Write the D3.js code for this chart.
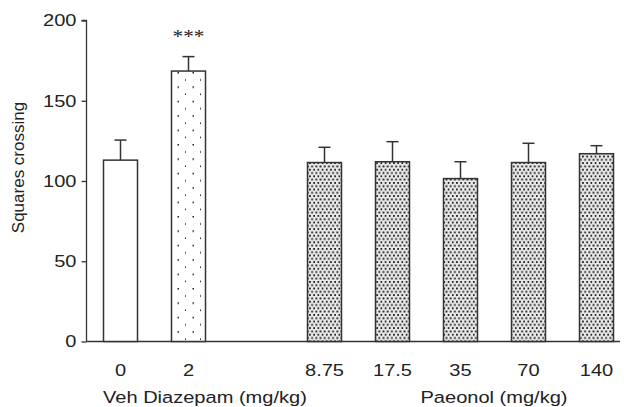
<!DOCTYPE html>
<html>
<head>
<meta charset="UTF-8">
<title>Squares crossing</title>
<style>
    body { margin: 0; padding: 0; background: #fff; }
    svg { display: block; }
    text { font-family: "Liberation Sans", Arial, sans-serif; fill: #222; }
</style>
</head>
<body>
<script src="https://cdn.jsdelivr.net/npm/d3@7"></script>
<script>
    // groups along the x axis, "gap" is the empty slot between the two drugs
    const groups = ["0", "2", "gap", "8.75", "17.5", "35", "70", "140"];
    const means = [113, 168.5, null, 111.5, 112, 101.5, 111.5, 117];
    const sems = [12.5, 9, null, 9.5, 12.5, 10.5, 12, 5];
    const fills = ["white", "sparse", null, "dense", "dense", "dense", "dense", "dense"];
    const yTicks = [0, 50, 100, 150, 200];

    const width = 626, height = 407;
    const plotLeft = 86.5, plotBottom = 341.5, plotTop = 20.5;
    const stretch = 1.18; // the figure's lettering is a bit wide

    const svg = d3.select("body").append("svg")
        .attr("width", width)
        .attr("height", height);

    const defs = svg.append("defs");

    const sparse = defs.append("pattern")
        .attr("id", "sparse")
        .attr("patternUnits", "userSpaceOnUse")
        .attr("width", 15).attr("height", 14.4)
        .attr("x", 171).attr("y", 0);
    sparse.append("rect").attr("width", 15).attr("height", 14.4).attr("fill", "#fff");
    sparse.append("rect").attr("x", 6.5).attr("y", 0).attr("width", 1.5).attr("height", 1.5).attr("fill", "#222");
    sparse.append("rect").attr("x", 14).attr("y", 7.2).attr("width", 1.5).attr("height", 1.5).attr("fill", "#222");

    const dense = defs.append("pattern")
        .attr("id", "dense")
        .attr("patternUnits", "userSpaceOnUse")
        .attr("width", 4.2).attr("height", 6.6);
    dense.append("rect").attr("width", 4.2).attr("height", 6.6).attr("fill", "#e8e8e8");
    dense.append("rect").attr("x", 0.4).attr("y", 0.5).attr("width", 1.8).attr("height", 1.8).attr("fill", "#1a1a1a");
    dense.append("rect").attr("x", 2.5).attr("y", 3.8).attr("width", 1.8).attr("height", 1.8).attr("fill", "#1a1a1a");

    const x = d3.scaleBand()
        .domain(groups)
        .range([plotLeft, plotLeft + 544])
        .paddingInner(0.5)
        .paddingOuter(0.25);

    const y = d3.scaleLinear()
        .domain([0, 200])
        .range([plotBottom, plotTop]);

    function wide(px, py) {
        return "translate(" + px + "," + py + ") scale(" + stretch + ",1)";
    }

    // y axis
    const yAxis = svg.append("g")
        .attr("transform", "translate(" + plotLeft + ",0)")
        .call(d3.axisLeft(y).tickValues(yTicks).tickSize(5).tickPadding(5));
    yAxis.select(".domain").attr("stroke", "#333").attr("stroke-width", 1.3)
        .attr("d", "M-5," + plotTop + "H0V" + plotBottom);
    yAxis.selectAll(".tick line").attr("stroke", "#333").attr("stroke-width", 1.3);
    yAxis.selectAll(".tick text")
        .attr("x", 0)
        .attr("transform", wide(-10, 0))
        .attr("font-size", 17)
        .attr("fill", "#222")
        .style("font-family", '"Liberation Sans", Arial, sans-serif');

    // baseline
    svg.append("line")
        .attr("x1", plotLeft).attr("x2", 620)
        .attr("y1", plotBottom).attr("y2", plotBottom)
        .attr("stroke", "#333").attr("stroke-width", 1.3);

    const data = groups.map((g, i) => ({g: g, mean: means[i], sem: sems[i], fill: fills[i]}))
        .filter(d => d.mean !== null);

    const bw = x.bandwidth();

    // error bars
    const err = svg.append("g").selectAll("g").data(data).join("g");
    err.append("line")
        .attr("x1", d => x(d.g) + bw / 2).attr("x2", d => x(d.g) + bw / 2)
        .attr("y1", d => y(d.mean)).attr("y2", d => y(d.mean + d.sem))
        .attr("stroke", "#333").attr("stroke-width", 1.5);
    err.append("line")
        .attr("x1", d => x(d.g) + bw / 2 - 6).attr("x2", d => x(d.g) + bw / 2 + 6)
        .attr("y1", d => y(d.mean + d.sem)).attr("y2", d => y(d.mean + d.sem))
        .attr("stroke", "#333").attr("stroke-width", 1.5);

    // bars
    svg.append("g").selectAll("rect").data(data).join("rect")
        .attr("x", d => x(d.g))
        .attr("y", d => y(d.mean))
        .attr("width", bw)
        .attr("height", d => plotBottom - y(d.mean))
        .attr("fill", d => d.fill === "white" ? "#fff" : "url(#" + d.fill + ")")
        .attr("stroke", "#333")
        .attr("stroke-width", 1.5);

    // significance mark
    svg.append("text")
        .attr("transform", wide(x("2") + bw / 2, 43))
        .attr("text-anchor", "middle")
        .attr("font-size", 18)
        .style("font-family", '"Liberation Serif", "Times New Roman", serif')
        .text("***");

    // x tick labels
    svg.append("g").selectAll("text").data(data).join("text")
        .attr("transform", d => wide(x(d.g) + bw / 2, 376))
        .attr("text-anchor", "middle")
        .attr("font-size", 17)
        .text(d => d.g);

    svg.append("text")
        .attr("transform", wide(103, 403))
        .attr("font-size", 17)
        .text("Veh Diazepam (mg/kg)");

    svg.append("text")
        .attr("transform", wide(494, 403))
        .attr("text-anchor", "middle")
        .attr("font-size", 17)
        .text("Paeonol (mg/kg)");

    svg.append("text")
        .attr("transform", "translate(24,167.5) rotate(-90)")
        .attr("text-anchor", "middle")
        .attr("font-size", 17)
        .text("Squares crossing");
</script>
</body>
</html>
